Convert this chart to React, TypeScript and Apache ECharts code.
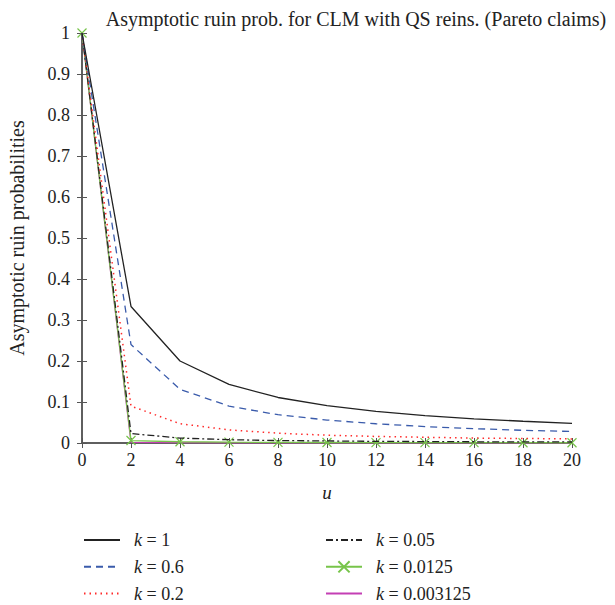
import React, { useEffect, useRef } from "react";
import * as echarts from "echarts";

const uValues = [0, 2, 4, 6, 8, 10, 12, 14, 16, 18, 20];
const seriesNames = ["k = 1", "k = 0.6", "k = 0.2", "k = 0.05", "k = 0.0125", "k = 0.003125"];
const k1 = [1, 0.333, 0.2, 0.143, 0.111, 0.091, 0.077, 0.067, 0.059, 0.053, 0.048];
const k06 = [1, 0.24, 0.131, 0.09, 0.069, 0.056, 0.047, 0.04, 0.035, 0.031, 0.028];
const k02 = [1, 0.09, 0.047, 0.032, 0.024, 0.019, 0.016, 0.014, 0.012, 0.011, 0.01];
const k005 = [1, 0.023, 0.012, 0.008, 0.006, 0.005, 0.004, 0.0035, 0.003, 0.0027, 0.0025];
const k00125 = [1, 0.006, 0.003, 0.002, 0.0015, 0.0012, 0.001, 0.0009, 0.0008, 0.0007, 0.0006];
const k0003125 = [1, 0.0015, 0.0008, 0.0005, 0.0004, 0.0003, 0.00025, 0.0002, 0.0002, 0.00018, 0.00015];
const yTicks = [0, 0.1, 0.2, 0.3, 0.4, 0.5, 0.6, 0.7, 0.8, 0.9, 1];

const FONT = "'Liberation Serif', 'DejaVu Serif', serif";
const AXIS_COLOR = "#555";

export default function App() {
  const ref = useRef<HTMLDivElement>(null);
  useEffect(() => {
    if (!ref.current) return;
    const chart = echarts.init(ref.current, undefined, { renderer: "svg" });
    const pairs = (vals: number[]) => uValues.map((u, i) => [u, vals[i]]);
    const styles = [
      { color: "#222222", type: "solid" as any, width: 1.3 },
      { color: "#3a5bab", type: [7, 5] as any, width: 1.3 },
      { color: "#ff2a2a", type: [1.5, 4] as any, width: 1.5 },
      { color: "#222222", type: [7, 3, 2, 3] as any, width: 1.3 },
      { color: "#77c44a", type: "solid" as any, width: 1.3 },
      { color: "#c43fb4", type: "solid" as any, width: 1.3 },
    ];
    const datas = [k1, k06, k02, k005, k00125, k0003125];
    const series = datas.map((d, i) => ({
      name: seriesNames[i],
      type: "line",
      data: pairs(d),
      showSymbol: i === 4,
      symbol: i === 4 ? "path://M0,0L10,10M10,0L0,10" : "none",
      symbolSize: 9,
      itemStyle: i === 4
        ? { color: styles[i].color, borderColor: styles[i].color, borderWidth: 1.2 }
        : { color: styles[i].color },
      lineStyle: { color: styles[i].color, type: styles[i].type, width: styles[i].width },
      z: 10 - i,
      silent: true,
    }));
    const legendText = {
      fontFamily: FONT,
      fontSize: 18,
      lineHeight: 20,
      color: "#222",
      padding: [0, 0, 0, 9],
      rich: { i: { fontFamily: FONT, fontSize: 18, lineHeight: 20, fontStyle: "italic", color: "#222" } },
    };
    const fmt = (name: string) => name.replace("k", "{i|k}");
    const legendData = (names: string[]) =>
      names.map((n) => (n === "k = 0.0125" ? { name: n } : { name: n, itemStyle: { opacity: 0 } }));
    const legendBase = {
      orient: "vertical",
      top: 530,
      height: 80,
      padding: 0,
      itemWidth: 36,
      itemHeight: 14,
      itemGap: 6.8,
      formatter: fmt,
      textStyle: legendText,
    };
    chart.setOption({
      animation: false,
      backgroundColor: "#fff",
      title: {
        text: "Asymptotic ruin prob. for CLM with QS reins. (Pareto claims)",
        left: 351,
        top: 4,
        textAlign: "center",
        textStyle: { fontFamily: FONT, fontSize: 20, fontWeight: "normal", color: "#222" },
      },
      grid: { left: 82, right: 43, top: 33, bottom: 162, outerBoundsMode: "none", containLabel: false },
      legend: [
        { ...legendBase, left: 83, data: legendData(seriesNames.slice(0, 3)) },
        { ...legendBase, left: 325, data: legendData(seriesNames.slice(3)) },
      ],
      xAxis: [
        {
          type: "value",
          min: 0,
          max: 20,
          interval: 2,
          name: "u",
          nameLocation: "middle",
          nameGap: 40,
          nameTextStyle: { fontFamily: FONT, fontSize: 19, fontStyle: "italic", color: "#222" },
          axisLine: { lineStyle: { color: AXIS_COLOR, width: 1.5 } },
          axisTick: { inside: true, length: 5, lineStyle: { color: AXIS_COLOR } },
          axisLabel: { fontFamily: FONT, fontSize: 18, color: "#222", margin: 8 },
          splitLine: { show: false },
        },
        {
          type: "value",
          position: "top",
          min: 0,
          max: 20,
          interval: 2,
          axisLine: { lineStyle: { color: AXIS_COLOR, width: 1.5 } },
          axisTick: { inside: true, length: 5, lineStyle: { color: AXIS_COLOR } },
          axisLabel: { show: false },
          splitLine: { show: false },
        },
      ],
      yAxis: [
        {
          type: "value",
          min: 0,
          max: 1,
          interval: 0.1,
          name: "Asymptotic ruin probabilities",
          nameLocation: "middle",
          nameGap: 55,
          nameTextStyle: { fontFamily: FONT, fontSize: 20, color: "#222" },
          axisLine: { lineStyle: { color: AXIS_COLOR, width: 1.5 } },
          axisTick: { inside: true, length: 5, lineStyle: { color: AXIS_COLOR } },
          axisLabel: {
            fontFamily: FONT,
            fontSize: 18,
            color: "#222",
            margin: 12,
            formatter: (v: number) => {
              const t = yTicks.find((x) => Math.abs(x - v) < 1e-6);
              const val = t === undefined ? v : t;
              return val === 0 || val === 1 ? String(val) : val.toFixed(1);
            },
          },
          splitLine: { show: false },
        },
        {
          type: "value",
          position: "right",
          min: 0,
          max: 1,
          interval: 0.1,
          axisLine: { lineStyle: { color: AXIS_COLOR, width: 1.5 } },
          axisTick: { inside: true, length: 5, lineStyle: { color: AXIS_COLOR } },
          axisLabel: { show: false },
          splitLine: { show: false },
        },
      ],
      series,
    });
    return () => chart.dispose();
  }, []);
  return (
    <div
      ref={ref}
      style={{ position: "fixed", left: 0, top: 0, width: 615, height: 605 }}
    />
  );
}
